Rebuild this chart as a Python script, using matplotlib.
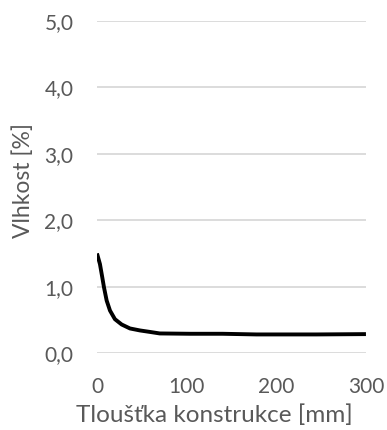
import matplotlib.pyplot as plt
from matplotlib.ticker import FuncFormatter

plt.rcParams['font.family'] = ['Lato', 'DejaVu Sans']

# profil vlhkosti v konstrukci
tloustka = [0, 3.3, 5.9, 7.8, 10.8, 14.5, 20, 27.5, 36.8, 48, 58, 70, 104, 140, 178, 245, 300]
vlhkost = [1.50, 1.34, 1.14, 0.99, 0.79, 0.64, 0.51, 0.43, 0.37, 0.34, 0.32, 0.295, 0.29, 0.29, 0.28, 0.28, 0.285]

y_ticks = [0, 1, 2, 3, 4, 5]
x_ticks = [0, 100, 200, 300]

gray = '#595959'

fig = plt.figure(figsize=(3.87, 4.30), dpi=100)
ax = fig.add_axes([0.2506, 0.179, 0.695, 0.772])

ax.plot(tloustka, vlhkost, color='black', linewidth=2.8,
        solid_capstyle='butt', solid_joinstyle='round')

ax.set_xlim(0, 300)
ax.set_ylim(0, 5)
ax.set_xticks(x_ticks)
ax.set_yticks(y_ticks)
ax.yaxis.set_major_formatter(FuncFormatter(lambda v, p: f'{v:.1f}'.replace('.', ',')))
ax.grid(axis='y', color='#d9d9d9', linewidth=1.3)
ax.set_axisbelow(True)
for s in ax.spines.values():
    s.set_visible(False)
ax.tick_params(length=0, labelsize=15, labelcolor=gray)
ax.tick_params(axis='x', pad=17)
ax.tick_params(axis='y', pad=17)

ax.set_xlabel('Tloušťka konstrukce [mm]', fontsize=17.5, color=gray)
ax.set_ylabel('Vlhkost [%]', fontsize=16.5, color=gray)
ax.xaxis.set_label_coords(0.435, -0.155)
ax.yaxis.set_label_coords(-0.235, 0.52)

fig.savefig('out.png', dpi=100)
